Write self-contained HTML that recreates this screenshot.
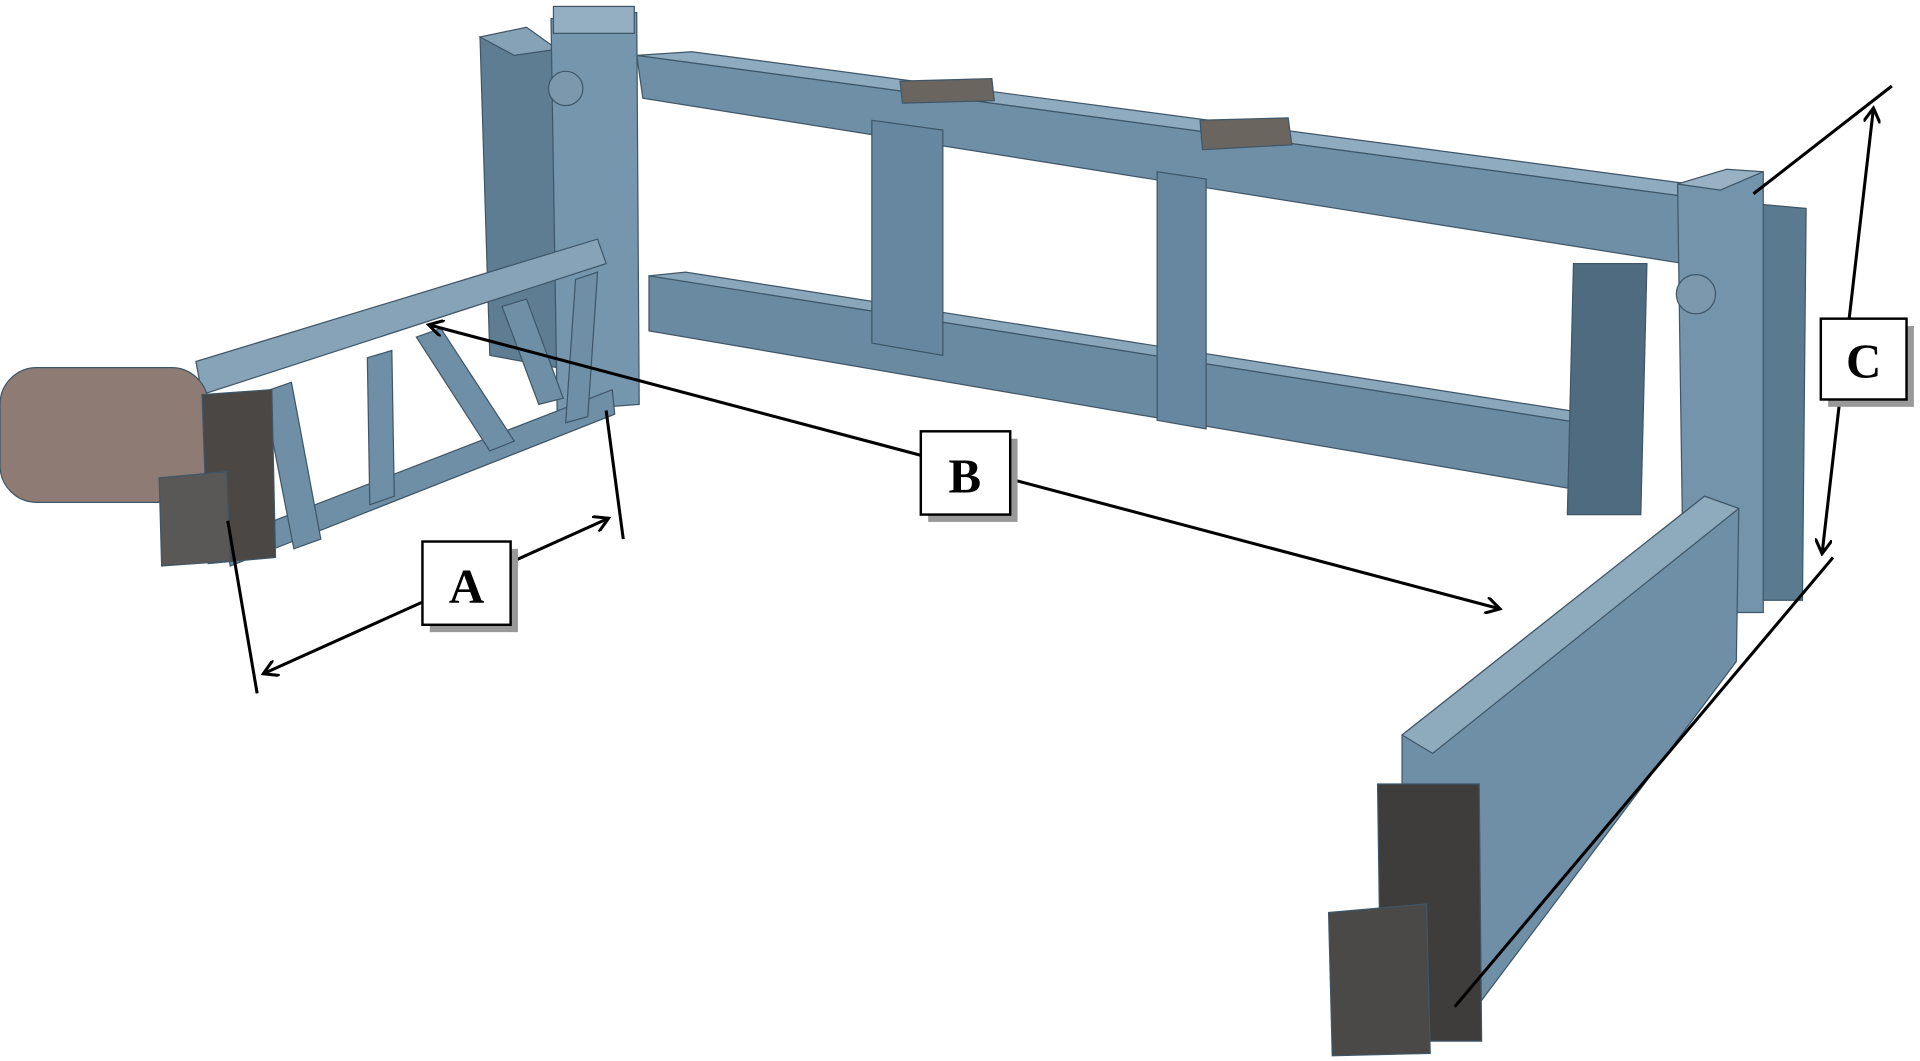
<!DOCTYPE html>
<html><head><meta charset="utf-8"><style>html,body{margin:0;padding:0;background:#fff;overflow:hidden}svg{display:block}</style></head>
<body>
<svg width="1920" height="1061" viewBox="0 0 1568 866" xmlns="http://www.w3.org/2000/svg">
<defs>
<marker id="ah" markerWidth="14" markerHeight="14" refX="12" refY="7" orient="auto" markerUnits="userSpaceOnUse">
<path d="M0,0 L12,7 L0,14" fill="none" stroke="#000" stroke-width="2.5"/></marker>
<marker id="as" markerWidth="14" markerHeight="14" refX="2" refY="7" orient="auto" markerUnits="userSpaceOnUse">
<path d="M14,0 L2,7 L14,14" fill="none" stroke="#000" stroke-width="2.5"/></marker>
</defs>
<rect width="1568" height="866" fill="#fff"/>
<g stroke="#3f5668" stroke-width="1">
<!-- back post left -->
<polygon points="392,30 455,40 455,300 400,290" fill="#5e7d93"/>
<polygon points="392,30 430,22 455,40 420,45" fill="#86a2b6"/>
<!-- top beam -->
<polygon points="520,45 1375,160 1375,215 525,80" fill="#6f8fa6"/>
<polygon points="520,45 565,42 1380,150 1375,160" fill="#8fabbf"/>
<!-- lower beam -->
<polygon points="530,225 1290,345 1290,400 530,270" fill="#6a8aa1"/>
<polygon points="530,225 560,222 1300,338 1290,345" fill="#8aa6ba"/>
<!-- struts -->
<polygon points="712,98 770,106 770,290 712,280" fill="#6787a0"/>
<polygon points="945,140 985,146 985,350 945,343" fill="#6787a0"/>
<!-- plates on top -->
<polygon points="735,66 810,64 812,82 737,84" fill="#6b6560"/>
<polygon points="980,98 1052,96 1055,118 982,122" fill="#6b6560"/>
<!-- back right frame -->
<polygon points="1285,215 1345,215 1340,420 1280,420" fill="#4e6b80"/>
<!-- right post -->
<polygon points="1420,165 1475,170 1472,490 1418,490" fill="#5a7a90"/>
<polygon points="1370,150 1440,140 1440,500 1375,500" fill="#7394ab"/>
<polygon points="1370,150 1410,138 1440,140 1405,155" fill="#98b2c4"/>
<circle cx="1385" cy="240" r="16" fill="#7b98ad"/>
<!-- left post -->
<polygon points="450,15 520,10 522,330 455,335" fill="#7596ad"/>
<rect x="452" y="5" width="66" height="22" fill="#93aec1"/>
<circle cx="462" cy="72" r="14" fill="#7b98ad"/>
<!-- left arm truss -->
<polygon points="160,295 488,195 495,215 165,322" fill="#86a3b7"/>
<polygon points="185,440 500,318 502,338 188,462" fill="#6f8fa6"/>
<polygon points="215,320 238,312 262,440 240,448" fill="#6f8fa6"/>
<polygon points="300,292 320,286 322,405 302,412" fill="#6f8fa6"/>
<polygon points="340,275 360,268 420,360 400,368" fill="#6f8fa6"/>
<polygon points="410,250 430,244 460,325 440,330" fill="#6f8fa6"/>
<polygon points="470,228 488,222 480,340 462,345" fill="#6f8fa6"/>
<!-- left blocks -->
<rect x="0" y="300" width="170" height="110" rx="30" fill="#8d7b74"/>
<polygon points="165,322 222,318 225,455 170,460" fill="#4a4745"/>
<polygon points="130,390 185,385 188,458 132,462" fill="#5a5856"/>
<!-- right arm -->
<polygon points="1145,600 1392,405 1420,415 1418,540 1200,830 1145,830" fill="#6f8fa6"/>
<polygon points="1145,600 1392,405 1420,415 1170,615" fill="#8eaabd"/>
<polygon points="1125,640 1208,640 1210,850 1128,850" fill="#3f3d3c"/>
<polygon points="1085,745 1165,738 1168,860 1088,862" fill="#4b4947"/>
</g>
<!-- annotations -->
<g stroke="#000" stroke-width="2.5" fill="none">
<line x1="186" y1="425" x2="210" y2="566"/>
<line x1="495" y1="335" x2="509" y2="440"/>
<line x1="215" y1="550" x2="497" y2="423" marker-start="url(#as)" marker-end="url(#ah)"/>
<line x1="350" y1="265" x2="1225" y2="497" marker-start="url(#as)" marker-end="url(#ah)"/>
<line x1="1432" y1="158" x2="1545" y2="70"/>
<line x1="1188" y1="822" x2="1497" y2="455"/>
<line x1="1530" y1="88" x2="1488" y2="452" marker-start="url(#as)" marker-end="url(#ah)"/>
</g>
<g font-family="Liberation Serif, serif" font-weight="bold" font-size="40" text-anchor="middle">
<rect x="351" y="448" width="72" height="68" fill="#999"/>
<rect x="345" y="442" width="72" height="68" fill="#fff" stroke="#000" stroke-width="2"/>
<text x="381" y="492">A</text>
<rect x="758" y="358" width="73" height="68" fill="#999"/>
<rect x="752" y="352" width="73" height="68" fill="#fff" stroke="#000" stroke-width="2"/>
<text x="788" y="402">B</text>
<rect x="1493" y="266" width="70" height="66" fill="#999"/>
<rect x="1487" y="260" width="70" height="66" fill="#fff" stroke="#000" stroke-width="2"/>
<text x="1522" y="308">C</text>
</g>
</svg>
</body></html>
